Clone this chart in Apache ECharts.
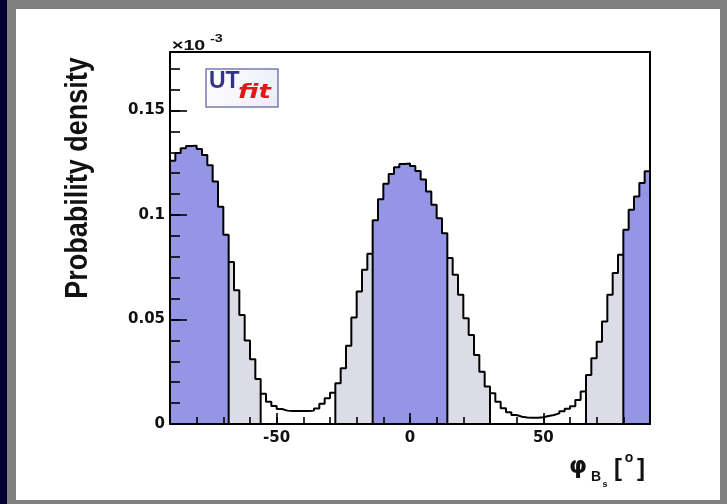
<!DOCTYPE html>
<html><head><meta charset="utf-8">
<script src="https://cdn.jsdelivr.net/npm/echarts@6/dist/echarts.min.js"></script>
<style>
html,body{margin:0;padding:0;}
#wrap{position:relative;width:727px;height:504px;background:#808080;overflow:hidden;}
#navy{position:absolute;left:0;top:0;width:7px;height:504px;background:#000033;}
#panel{position:absolute;left:16px;top:9px;width:704px;height:491px;background:#ffffff;}
#c{position:absolute;left:0;top:0;width:727px;height:504px;}
</style>
</head><body>
<div id="wrap"><div id="navy"></div><div id="panel"></div><div id="c"></div></div>
<script>
// ---- data (values in units of 10^-3) ----
const binLowEdges = [-90,-88,-86,-84,-82,-80,-78,-76,-74,-72,-70,-68,-66,-64,-62,-60,-58,-56,-54,-52,
  -50,-48,-46,-44,-42,-40,-38,-36,-34,-32,-30,-28,-26,-24,-22,-20,-18,-16,-14,-12,
  -10,-8,-6,-4,-2,0,2,4,6,8,10,12,14,16,18,20,22,24,26,28,
  30,32,34,36,38,40,42,44,46,48,50,52,54,56,58,60,62,64,66,68,
  70,72,74,76,78,80,82,84,86,88];
const binUpperLimit = 90;
const density = [0.1260,0.1297,0.1320,0.1330,0.1332,0.1316,0.1287,0.1238,0.1160,0.1040,
  0.0905,0.0775,0.0640,0.0522,0.0400,0.0310,0.0215,0.0145,0.0107,0.0086,
  0.0072,0.0064,0.0062,0.0062,0.0062,0.0062,0.0064,0.0074,0.0097,0.0123,
  0.0150,0.0195,0.0267,0.0375,0.0510,0.0634,0.0738,0.0815,0.0975,0.1075,
  0.1150,0.1196,0.1228,0.1244,0.1246,0.1235,0.1210,0.1170,0.1113,0.1049,
  0.0985,0.0913,0.0794,0.0714,0.0618,0.0506,0.0426,0.0330,0.0250,0.0179,
  0.0147,0.0107,0.0075,0.0056,0.0043,0.0035,0.0031,0.0030,0.0030,0.0032,
  0.0038,0.0043,0.0051,0.0061,0.0073,0.0085,0.0115,0.0155,0.0235,0.0315,
  0.0394,0.0490,0.0618,0.0722,0.0810,0.0930,0.1025,0.1089,0.1153,0.1209];
const region68 = [[-90,-68],[-14,14],[80,90]];
const region95 = [[-90,-56],[-28,30],[66,90]];
const xMajorTicks = [-50, 0, 50];
const yMajorTicks = [0, 0.05, 0.1, 0.15];

// ---- build ----
const C68 = '#9595e6', C95 = '#dcdce6', CNONE = '#ffffff';
function inRegions(x, regs){ return regs.some(r => x >= r[0] && x <= r[1]); }
const binData = density.map((v, i) => {
  const lo = binLowEdges[i];
  const hi = i + 1 < binLowEdges.length ? binLowEdges[i + 1] : binUpperLimit;
  const mid = (lo + hi) / 2;
  const reg = inRegions(mid, region68) ? 2 : (inRegions(mid, region95) ? 1 : 0);
  return [lo, hi, v, reg];
});
const outline = density.map((v, i) => [binLowEdges[i], v]);
outline.push([binUpperLimit, density[density.length - 1]]);

const edgeSet = [];
region68.concat(region95).forEach(r => r.forEach(e => {
  if (e > -90 && e < 90 && edgeSet.indexOf(e) < 0) edgeSet.push(e);
}));
const boundaryData = edgeSet.map(e => {
  const j = binLowEdges.indexOf(e);
  return [e, Math.min(density[j - 1], density[j])];
});

const labelFont = { fontFamily: 'DejaVu Sans', fontWeight: 'bold', fontSize: 15, color: '#111' };
const chart = echarts.init(document.getElementById('c'), null, { renderer: 'canvas' });
const option = {
  animation: false,
  backgroundColor: 'transparent',
  grid: { left: 170, top: 52, width: 480, height: 372, show: false },
  xAxis: [
    { type: 'value', min: -90, max: 90, position: 'bottom', z: 10,
      axisLine: { show: true, onZero: false, lineStyle: { color: '#000', width: 2 } },
      axisTick: { show: true, inside: true, length: 11, customValues: xMajorTicks, lineStyle: { color: '#000', width: 1.6 } },
      axisLabel: Object.assign({ customValues: xMajorTicks, margin: 7 }, labelFont),
      splitLine: { show: false } },
    { type: 'value', min: -90, max: 90, interval: 10, position: 'bottom', z: 10,
      axisLine: { show: false, onZero: false },
      axisTick: { show: true, inside: true, length: 7, lineStyle: { color: '#000', width: 1.6 } },
      axisLabel: { show: false }, splitLine: { show: false } },
    { type: 'value', min: -90, max: 90, position: 'top', z: 10,
      axisLine: { show: true, onZero: false, lineStyle: { color: '#000', width: 2 } },
      axisTick: { show: false }, axisLabel: { show: false }, splitLine: { show: false } }
  ],
  yAxis: [
    { type: 'value', min: 0, max: 0.178, position: 'left', z: 10,
      axisLine: { show: true, onZero: false, lineStyle: { color: '#000', width: 2 } },
      axisTick: { show: true, inside: true, length: 17, customValues: yMajorTicks, lineStyle: { color: '#000', width: 1.6 } },
      axisLabel: Object.assign({ customValues: yMajorTicks, margin: 5 }, labelFont),
      splitLine: { show: false } },
    { type: 'value', min: 0, max: 0.178, interval: 0.01, position: 'left', z: 10,
      axisLine: { show: false, onZero: false },
      axisTick: { show: true, inside: true, length: 10, lineStyle: { color: '#000', width: 1.6 } },
      axisLabel: { show: false }, splitLine: { show: false } },
    { type: 'value', min: 0, max: 0.178, position: 'right', z: 10,
      axisLine: { show: true, onZero: false, lineStyle: { color: '#000', width: 2 } },
      axisTick: { show: false }, axisLabel: { show: false }, splitLine: { show: false } }
  ],
  series: [
    { type: 'custom', name: 'bins', xAxisIndex: 0, yAxisIndex: 0, z: 2, clip: true,
      encode: { x: [0, 1], y: 2 },
      data: binData,
      renderItem: function (params, api) {
        const p0 = api.coord([api.value(0), 0]);
        const p1 = api.coord([api.value(1), api.value(2)]);
        const r = api.value(3);
        const col = r === 2 ? C68 : (r === 1 ? C95 : CNONE);
        const xl = Math.round(p0[0]), xr = Math.round(p1[0]);
        return { type: 'rect',
          shape: { x: xl, y: p1[1], width: xr - xl, height: p0[1] - p1[1] },
          style: { fill: col } };
      } },
    { type: 'custom', name: 'boundaries', xAxisIndex: 0, yAxisIndex: 0, z: 3, clip: true,
      encode: { x: 0, y: 1 },
      data: boundaryData,
      renderItem: function (params, api) {
        const a = api.coord([api.value(0), 0]);
        const b = api.coord([api.value(0), api.value(1)]);
        return { type: 'line', shape: { x1: a[0], y1: a[1], x2: b[0], y2: b[1] },
          style: { stroke: '#000', lineWidth: 2 } };
      } },
    { type: 'line', name: 'outline', xAxisIndex: 0, yAxisIndex: 0, z: 4,
      step: 'end', showSymbol: false, symbol: 'none', data: outline,
      lineStyle: { color: '#000', width: 2 } }
  ],
  graphic: [
    { type: 'text', x: 78, y: 178, rotation: Math.PI / 2, scaleY: 1.15, z: 20,
      style: { text: 'Probability density', font: 'bold 27px "Liberation Sans"', fill: '#111', align: 'center', verticalAlign: 'middle' } },
    { type: 'text', x: 172, y: 53, scaleX: 1.4, z: 20,
      style: { text: '×10', font: 'bold 14px "Liberation Sans"', fill: '#111', align: 'left', verticalAlign: 'bottom' } },
    { type: 'text', x: 210, y: 44, scaleX: 1.3, z: 20,
      style: { text: '-3', font: 'bold 11px "Liberation Sans"', fill: '#111', align: 'left', verticalAlign: 'bottom' } },
    { type: 'rect', z: 20, shape: { x: 206, y: 69, width: 72, height: 38 },
      style: { fill: new echarts.graphic.LinearGradient(0, 0, 1, 1, [{ offset: 0, color: '#ffffff' }, { offset: 1, color: '#ececfa' }]),
        stroke: '#7a7ab0', lineWidth: 1.5 } },
    { type: 'text', x: 209, y: 93, z: 21,
      style: { text: 'UT', font: 'bold 23px "Liberation Sans"', fill: '#333388', align: 'left', verticalAlign: 'bottom' } },
    { type: 'text', x: 238, y: 93, scaleX: 1.3, z: 21,
      style: { text: 'fit', font: 'italic bold 20px "DejaVu Sans"', fill: '#e01818', align: 'left', verticalAlign: 'middle' } },
    { type: 'text', x: 578, y: 467, z: 20,
      style: { text: 'φ', font: 'bold 23px "DejaVu Sans"', fill: '#111', align: 'center', verticalAlign: 'middle' } },
    { type: 'text', x: 596, y: 477, z: 20,
      style: { text: 'B', font: 'bold 14px "Liberation Sans"', fill: '#111', align: 'center', verticalAlign: 'middle' } },
    { type: 'text', x: 605, y: 485, z: 20,
      style: { text: 's', font: 'bold 9px "Liberation Sans"', fill: '#111', align: 'center', verticalAlign: 'middle' } },
    { type: 'text', x: 618, y: 469, z: 20,
      style: { text: '[', font: 'bold 24px "Liberation Sans"', fill: '#111', align: 'center', verticalAlign: 'middle' } },
    { type: 'text', x: 629, y: 458, z: 20,
      style: { text: 'o', font: 'bold 14px "Liberation Sans"', fill: '#111', align: 'center', verticalAlign: 'middle' } },
    { type: 'text', x: 641, y: 469, z: 20,
      style: { text: ']', font: 'bold 24px "Liberation Sans"', fill: '#111', align: 'center', verticalAlign: 'middle' } }
  ]
};
chart.setOption(option);
</script>
</body></html>
